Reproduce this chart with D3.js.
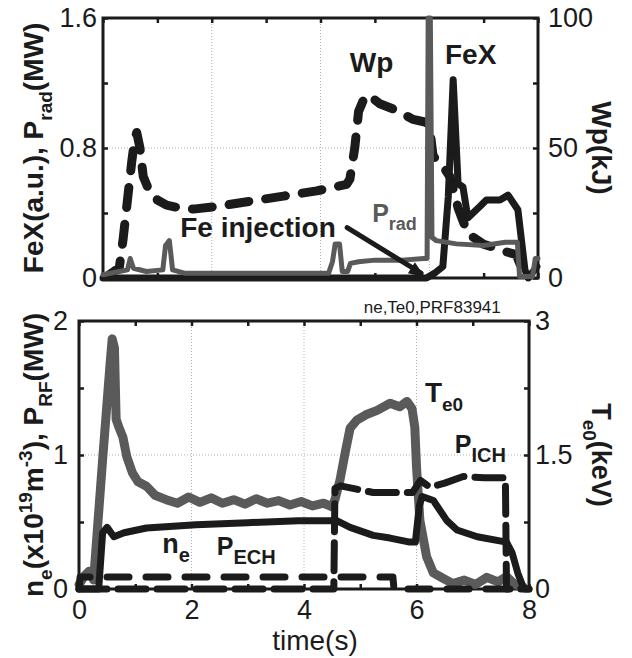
<!DOCTYPE html>
<html>
<head>
<meta charset="utf-8">
<script src="https://cdn.jsdelivr.net/npm/d3@7"></script>
<style>
body { margin: 0; background: #fff; }
svg { display: block; font-family: "Liberation Sans", Arial, sans-serif; }
</style>
</head>
<body>
<script>
var W = 632, H = 658,
	black = '#1b1b1b',
	grey = '#5a5a5a';

// ---- top panel data (time in s) ----
var wpT = [0.1, 0.3, 0.37, 0.45, 0.53, 0.58, 0.62, 0.68, 0.74, 0.86, 1.0, 1.17, 1.4, 1.66, 2.09, 2.7, 3.32, 3.93, 4.48, 4.54, 4.63, 4.7, 4.8, 4.87, 5.0, 5.09, 5.4, 5.7, 5.92, 6.0, 6.07, 6.25, 6.38, 6.53, 6.62, 6.71, 7.0, 7.43, 7.6, 7.75];
var wpV = [1, 4, 15, 30, 45, 53, 56, 50, 39, 33, 30, 28, 27, 26.5, 27.5, 29.5, 31.5, 33.5, 36, 38, 50, 64, 69, 70.5, 68.5, 67, 64.5, 61, 60, 59, 47, 43, 39, 27, 22, 17, 13, 10, 9, 1];

var fexT = [0, 5.95, 6.1, 6.25, 6.35, 6.44, 6.53, 6.62, 6.71, 6.93, 7.05, 7.3, 7.45, 7.63, 7.76, 7.82, 7.98];
var fexV = [0, 0, 0.03, 0.07, 0.5, 1.22, 0.58, 0.56, 0.37, 0.44, 0.48, 0.48, 0.51, 0.42, 0.05, 0, 0.07];

var pradT = [0, 0.3, 0.45, 0.5, 0.56, 0.8, 1.1, 1.15, 1.22, 1.28, 1.5, 4.15, 4.22, 4.27, 4.35, 4.4, 4.5, 4.55, 4.7, 5.0, 5.5, 5.9, 5.96, 5.98, 6.02, 6.05, 6.13, 6.5, 7.0, 7.4, 7.62, 7.66, 7.9, 7.95, 8];
var pradV = [0.02, 0.04, 0.05, 0.12, 0.06, 0.04, 0.05, 0.2, 0.23, 0.05, 0.03, 0.03, 0.1, 0.21, 0.21, 0.04, 0.04, 0.09, 0.1, 0.11, 0.11, 0.12, 0.12, 1.6, 1.6, 0.25, 0.23, 0.21, 0.2, 0.22, 0.22, 0.01, 0.01, 0.12, 0.12];

// ---- bottom panel data ----
var teT = [0, 0.1, 0.18, 0.26, 0.42, 0.55, 0.59, 0.63, 0.66, 0.71, 0.78, 0.85, 0.95, 1.05, 1.2, 1.35, 1.55, 1.75, 1.95, 2.15, 2.35, 2.55, 2.75, 2.95, 3.15, 3.35, 3.55, 3.75, 3.95, 4.15, 4.35, 4.5, 4.55, 4.64, 4.73, 4.82, 4.94, 5.1, 5.3, 5.53, 5.7, 5.83, 5.92, 5.97, 6.0, 6.06, 6.18, 6.3, 6.47, 6.65, 6.85, 7.05, 7.25, 7.45, 7.6, 7.75, 7.9];
var teV = [0.05, 0.15, 0.2, 0.1, 1.45, 2.5, 2.8, 2.7, 1.9, 1.81, 1.7, 1.48, 1.3, 1.2, 1.15, 1.05, 1.0, 0.96, 1.03, 0.97, 1.02, 0.96, 1.0, 0.95, 1.01, 0.96, 0.99, 0.94, 0.98, 0.93, 0.96, 0.92, 1.0, 1.22, 1.52, 1.8, 1.89, 1.95, 2.0, 2.08, 2.04, 2.1, 2.02, 1.81, 1.37, 0.77, 0.36, 0.18, 0.12, 0.06, 0.1, 0.05, 0.13, 0.08, 0.14, 0.05, 0.02];

var neT = [0, 0.35, 0.42, 0.5, 0.62, 0.8, 1.2, 2.08, 3.0, 3.9, 4.58, 4.82, 5.23, 5.53, 5.88, 5.98, 6.05, 6.1, 6.3, 6.54, 6.72, 7.08, 7.6, 7.7, 7.8, 7.9];
var neV = [0, 0, 0.42, 0.46, 0.39, 0.42, 0.455, 0.48, 0.495, 0.51, 0.51, 0.46, 0.40, 0.38, 0.35, 0.35, 0.62, 0.69, 0.66, 0.51, 0.44, 0.39, 0.35, 0.27, 0.12, 0.01];

var ichT = [0, 4.53, 4.55, 4.65, 5.23, 5.93, 6.07, 6.24, 6.5, 6.83, 7.2, 7.58, 7.6, 8];
var ichV = [0, 0, 0.75, 0.77, 0.72, 0.72, 0.81, 0.76, 0.79, 0.84, 0.83, 0.83, 0, 0];

var echT = [0, 0.02, 5.58, 5.6, 8];
var echV = [0, 0.09, 0.09, 0, 0];

// ticks
var xTicks = [0, 1, 2, 3, 4, 5, 6, 7, 8],
	xLabels = [0, 2, 4, 6, 8],
	topLTicks = [0, 0.4, 0.8, 1.2, 1.6], topLLabels = [0, 0.8, 1.6],
	topRTicks = [0, 25, 50, 75, 100], topRLabels = [0, 50, 100],
	botLTicks = [0, 0.5, 1, 1.5, 2], botLLabels = [0, 1, 2],
	botRTicks = [0, 0.75, 1.5, 2.25, 3], botRLabels = [0, 1.5, 3];

var svg = d3.select('body').append('svg')
	.attr('width', W)
	.attr('height', H);

// scales
var x1 = d3.scaleLinear([0, 8], [103, 538]),
	yL1 = d3.scaleLinear([0, 1.6], [278, 18]),
	yR1 = d3.scaleLinear([0, 100], [278, 18]);
var x2 = d3.scaleLinear([0, 8], [79, 529]),
	yL2 = d3.scaleLinear([0, 2], [589, 321]),
	yR2 = d3.scaleLinear([0, 3], [589, 321]);

function fmt(list) {
	return function(d) { return list.indexOf(d) > -1 ? String(d) : ''; };
}

function frame(x, yl, yr, showX, padL, padR) {
	var g = svg.append('g');
	var x0 = x.range()[0], x9 = x.range()[1], yb = yl.range()[0], yt = yl.range()[1];
	// grid
	g.selectAll('.gx').data([2, 4, 6]).enter().append('line')
		.attr('x1', x).attr('x2', x).attr('y1', yt).attr('y2', yb)
		.attr('stroke', '#b0b0b0').attr('stroke-width', 1).attr('stroke-dasharray', '1,2');
	g.append('line')
		.attr('x1', x0).attr('x2', x9).attr('y1', yl(yl.domain()[1] / 2)).attr('y2', yl(yl.domain()[1] / 2))
		.attr('stroke', '#b0b0b0').attr('stroke-width', 1).attr('stroke-dasharray', '1,2');

	var bx = g.append('g').attr('transform', 'translate(0,' + yb + ')')
		.call(d3.axisBottom(x).tickValues(xTicks).tickSize(-5).tickSizeOuter(0).tickPadding(11)
			.tickFormat(showX ? fmt(xLabels) : function() { return ''; }));
	var tx = g.append('g').attr('transform', 'translate(0,' + yt + ')')
		.call(d3.axisTop(x).tickValues(xTicks).tickSize(-5).tickSizeOuter(0).tickFormat(function() { return ''; }));
	var ly = g.append('g').attr('transform', 'translate(' + x0 + ',0)')
		.call(d3.axisLeft(yl).tickValues(yl === yL1 ? topLTicks : botLTicks).tickSize(-5).tickSizeOuter(0).tickPadding(padL)
			.tickFormat(fmt(yl === yL1 ? topLLabels : botLLabels)));
	var ry = g.append('g').attr('transform', 'translate(' + x9 + ',0)')
		.call(d3.axisRight(yr).tickValues(yr === yR1 ? topRTicks : botRTicks).tickSize(-5).tickSizeOuter(0).tickPadding(padR)
			.tickFormat(fmt(yr === yR1 ? topRLabels : botRLabels)));

	[bx, tx, ly, ry].forEach(function(a) {
		a.select('.domain').remove();
		a.selectAll('line').attr('stroke', black).attr('stroke-width', 2.5);
		a.selectAll('text').attr('font-size', 27).attr('fill', black)
			.attr('font-family', '"Liberation Sans", Arial, sans-serif');
	});

	g.append('rect')
		.attr('x', x0).attr('y', yt).attr('width', x9 - x0).attr('height', yb - yt)
		.attr('fill', 'none').attr('stroke', black).attr('stroke-width', 3);
}

function series(x, y, t, v, color, width, dash) {
	var line = d3.line().x(function(d) { return x(d[0]); }).y(function(d) { return y(d[1]); });
	svg.append('path')
		.datum(d3.zip(t, v))
		.attr('d', line)
		.attr('fill', 'none')
		.attr('stroke', color)
		.attr('stroke-width', width)
		.attr('stroke-linejoin', 'round')
		.attr('stroke-linecap', 'round')
		.attr('stroke-dasharray', dash || null);
}

// label helper: parts = [[text, kind]] where kind is '', 'sub' or 'sup'
function label(parts, px, py, size, subSize, opts) {
	opts = opts || {};
	var t = svg.append('text')
		.attr('x', px).attr('y', py)
		.attr('font-size', size)
		.attr('font-weight', opts.weight || 'bold')
		.attr('fill', opts.color || black)
		.attr('text-anchor', opts.anchor || 'start');
	if (opts.rotate) t.attr('transform', 'rotate(' + opts.rotate + ',' + px + ',' + py + ')');
	var shift = 0;
	parts.forEach(function(p) {
		var target = p[1] === 'sub' ? subSize * 0.45 : p[1] === 'sup' ? -size * 0.4 : 0;
		t.append('tspan')
			.attr('dy', target - shift)
			.attr('font-size', p[1] ? subSize : size)
			.text(p[0]);
		shift = target;
	});
	return t;
}

// ---- top panel ----
frame(x1, yL1, yR1, false, 6, 10);
series(x1, yR1, wpT, wpV, black, 9, '20,17');
series(x1, yL1, fexT, fexV, black, 7);
series(x1, yL1, pradT, pradV, grey, 5);

label([['Wp', '']], x1(4.54), yL1(1.27), 28, 20);
label([['FeX', '']], x1(6.29), yL1(1.32), 28, 20);
label([['Fe injection', '']], x1(1.42), yL1(0.25), 28, 20);
label([['P', ''], ['rad', 'sub']], x1(4.95), yL1(0.345), 25, 18, {color: grey});

// arrow for Fe injection
svg.append('line')
	.attr('x1', x1(4.49)).attr('y1', yL1(0.31))
	.attr('x2', x1(5.85)).attr('y2', yL1(0.03))
	.attr('stroke', black).attr('stroke-width', 5).attr('stroke-linecap', 'round');
var ax = x1(5.92), ay = yL1(0.005);
svg.append('path')
	.attr('d', 'M' + ax + ',' + ay + 'l-17,-4 l7,-11 z')
	.attr('fill', black);

label([['FeX(a.u.), P', ''], ['rad', 'sub'], ['(MW)', '']], 43, 148, 28, 19, {anchor: 'middle', rotate: -90});
label([['Wp(kJ)', '']], 592, 148, 28, 19, {anchor: 'middle', rotate: 90});

// ---- bottom panel ----
frame(x2, yL2, yR2, true, 11, 6);
series(x2, yR2, teT, teV, grey, 9);
series(x2, yL2, echT, echV, black, 7, '22,17');
series(x2, yL2, ichT, ichV, black, 7, '28,11');
series(x2, yL2, neT, neV, black, 7);

label([['T', ''], ['e0', 'sub']], x2(6.15), yL2(1.395), 28, 19);
label([['P', ''], ['ICH', 'sub']], x2(6.68), yL2(1.015), 25, 20);
label([['n', ''], ['e', 'sub']], x2(1.48), yL2(0.27), 27, 20);
label([['P', ''], ['ECH', 'sub']], x2(2.45), yL2(0.254), 25, 20);

label([['ne,Te0,PRF83941', '']], x2(6.28), 313, 17, 12, {anchor: 'middle', weight: 'normal'});

label([['n', ''], ['e', 'sub'], ['(x10', ''], ['19', 'sup'], ['m', ''], ['-3', 'sup'], ['), P', ''], ['RF', 'sub'], ['(MW)', '']],
	43, 455, 28, 19, {anchor: 'middle', rotate: -90});
label([['T', ''], ['e0', 'sub'], ['(keV)', '']], 592, 455, 27, 19, {anchor: 'middle', rotate: 90});

label([['time(s)', '']], 315, 650, 28, 20, {anchor: 'middle', weight: 'normal'});
</script>
</body>
</html>
